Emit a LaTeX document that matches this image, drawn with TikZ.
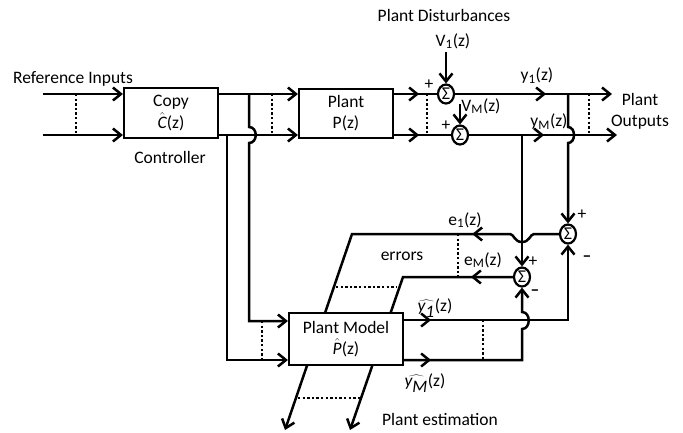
\documentclass[tikz,border=0pt]{standalone}
\usepackage{fontspec}
\setmainfont{Carlito}
\DeclareMathSizes{17.5}{18}{13}{10}
\usetikzlibrary{arrows.meta,shapes.geometric,decorations.markings,backgrounds}
\newcommand{\itx}[1]{\textit{#1}}
\begin{document}
\begin{tikzpicture}[x=1pt,y=-1pt,
  font=\fontsize{17.5}{21}\selectfont,
  ln/.style={line width=2.5pt},
  arr/.style={ln,-{Straight Barb[length=8pt,width=13pt]}},
  midarr/.style={ln,postaction={decorate},decoration={markings,mark=at position #1 with {\arrow{Straight Barb[length=8pt,width=13pt]}}}},
  blk/.style={draw,line width=2.2pt,fill=white,align=center,inner sep=0pt},
  sumn/.style={draw,ellipse,line width=2.2pt,fill=white,minimum width=16pt,minimum height=19pt,inner sep=0pt,font=\fontsize{18}{18}\selectfont},
  dots/.style={line width=2.5pt,dash pattern=on 2.4pt off 2.2pt},
  lbl/.style={inner sep=0pt}]
\useasboundingbox (0,0) rectangle (683,432);
% blocks
\node[blk,minimum width=94pt,minimum height=50pt] (C) at (171,113) {Copy\\[0.5pt]$\hat{\itx{C}}$(z)};
\node[blk,minimum width=94pt,minimum height=49pt] (P) at (346,113.5) {Plant\\P(z)};
\node[blk,minimum width=114pt,minimum height=52pt] (M) at (346,339) {Plant Model\\[0.5pt]$\hat{\itx{P}}$(z)};
% sums
\node[sumn] (s1) at (446,94) {Σ};
\node[sumn] (s2) at (460,135) {Σ};
\node[sumn] (s3) at (568,234) {Σ};
\node[sumn] (s4) at (522,277) {Σ};
% coordinates
\coordinate (in1) at (43,94);
\coordinate (in2) at (43,135);
\coordinate (out1) at (612,94);
\coordinate (out2) at (617,135);
\coordinate (v1) at (446,52);
\coordinate (vM) at (460,104);
\coordinate (j1) at (249,94);
\coordinate (j2) at (227,135);
\coordinate (m1) at (249,321);
\coordinate (m2) at (227,360);
\coordinate (j3) at (568,94);
\coordinate (j4) at (522,135);
\coordinate (r1) at (568,320);
\coordinate (r2) at (522,360);
\coordinate (e1k) at (352,234);
\coordinate (eMk) at (403,277);
\coordinate (e1end) at (285,430);
\coordinate (eMend) at (350,430);
\begin{scope}[on background layer]
\draw[arr] (in1) -- (in1 -| C.west);
\draw[arr] (in2) -- (in2 -| C.west);
\draw[arr] (C.east |- in1) -- (in1 -| P.west);
\draw[arr] (C.east |- in2) -- (in2 -| P.west);
\draw[midarr=25pt] (P.east |- s1) -- (s1.west);
\draw[midarr=25pt] (P.east |- s2) -- (s2.west);
\draw[arr] (v1) -- (s1.north);
\draw[arr] (vM) -- (s2.north);
\draw[arr,midarr=91pt] (s1.east) -- (out1);
\draw[arr,midarr=75pt] (s2.east) -- (out2);
% branches to model
\draw[arr] (j1) -- (249,127) .. controls (258,127) and (258,143) .. (249,143) -- (m1) -- (m1 -| M.west);
\draw[arr] (j2) -- (m2) -- (m2 -| M.west);
% outputs to sums
\draw[arr] (j3) -- (568,127) .. controls (576,127) and (576,143) .. (568,143) -- (s3.north);
\draw[arr] (j4) -- (s4.north);
\draw[arr,midarr=27pt] (M.east |- r1) -- (r1) -- (s3.south);
\draw[arr,midarr=27pt] (M.east |- r2) -- (r2) -- (522,329) .. controls (531,329) and (531,312) .. (522,312) -- (s4.south);
% errors
\draw[arr,midarr=93pt] (s3.west) -- (534,234) .. controls (530,234) and (530,242) .. (522,242) .. controls (514,242) and (514,234) .. (510,234) -- (e1k) -- (e1end);
\draw[arr,midarr=42pt] (s4.west) -- (eMk) -- (eMend);
% dotted
\draw[dots] (76,94) -- (76,135);
\draw[dots] (272,94) -- (272,135);
\draw[dots] (427,94) -- (427,135);
\draw[dots] (589,94) -- (589,135);
\draw[dots] (458,234) -- (458,277);
\draw[dots] (336,287) -- (397,287);
\draw[dots] (262,321) -- (262,360);
\draw[dots] (483,320) -- (483,360);
\draw[dots] (298,398) -- (362,398);
\end{scope}
% labels
\node[lbl] (tref) at (73,79) {Reference Inputs};
\node[lbl] (tctl) at (170,157) {Controller};
\node[lbl] (tdist) at (444,15) {Plant Disturbances};
\node[lbl] (tv1) at (453,41) {V\textsubscript{1}(z)};
\node[lbl] (tp1) at (429,85) {+};
\node[lbl] (tp2) at (446,126) {+};
\node[lbl] (ty1) at (537,76) {y\textsubscript{1}(z)};
\node[lbl] (tvm) at (481,106) {V\textsubscript{M}(z)};
\node[lbl] (tym) at (549,122) {y\textsubscript{M}(z)};
\node[lbl,align=center] (tout) at (640,111) {Plant\\Outputs};
\node[lbl] (tp3) at (582,215) {+};
\node[lbl] (tm3) at (587,259) {\textbf{–}};
\node[lbl] (tp4) at (533,262) {+};
\node[lbl] (tm4) at (535,293) {\textbf{–}};
\node[lbl] (te1) at (465,220) {e\textsubscript{1}(z)};
\node[lbl] (tem) at (483,260) {e\textsubscript{M}(z)};
\node[lbl] (terr) at (402,256) {errors};
\node[lbl] (tyh1) at (435,308) {$\widehat{\itx{y}_{\itx{1}}}$(z)};
\node[lbl] (tyhm) at (425,383) {$\widehat{\itx{y}_{\itx{M}}}$(z)};
\node[lbl] (test) at (440,419) {Plant estimation};
\end{tikzpicture}
\end{document}
